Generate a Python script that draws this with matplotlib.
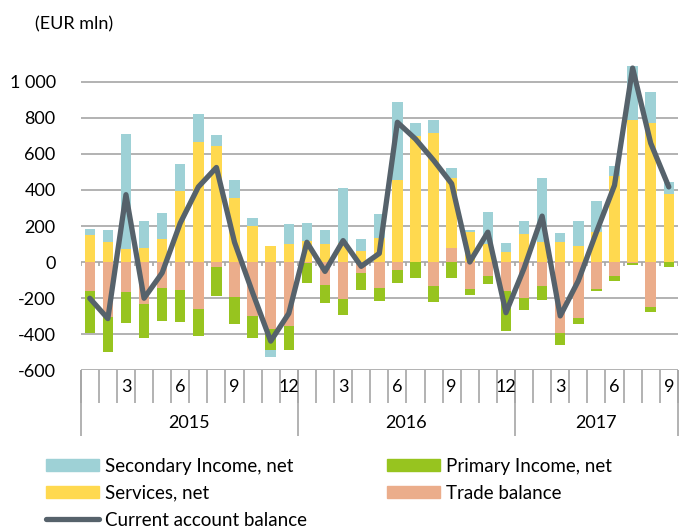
import numpy as np
import matplotlib.pyplot as plt
from matplotlib.ticker import FuncFormatter
from matplotlib.patches import Patch
from matplotlib.lines import Line2D

plt.rcParams['font.family'] = ['Lato', 'DejaVu Sans']

# monthly data, Jan 2015 - Sep 2017 (EUR mln)
years = ['2015', '2016', '2017']
months_per_year = [12, 12, 9]
trade = [-160, -305, -166, -231, -143, -153, -259, -30, -195, -298, -370, -353,
         -5, -126, -205, -63, -143, -43, 0, -134, 76, -149, -78, -158,
         -197, -134, -394, -309, -147, -78, -5, -249, 0]
primary = [-232, -195, -175, -193, -186, -180, -153, -158, -151, -123, -121, -138,
           -113, -102, -89, -91, -76, -76, -86, -89, -89, -32, -45, -227,
           -67, -76, -67, -33, -13, -26, -11, -30, -30]
services = [149, 113, 73, 76, 128, 394, 666, 644, 355, 199, 87, 99,
            119, 102, 104, 60, 136, 456, 701, 714, 391, 169, 100, 56,
            158, 112, 112, 91, 169, 480, 789, 770, 379]
secondary = [37, 67, 640, 151, 143, 151, 156, 63, 99, 48, -37, 110,
             99, 74, 305, 69, 128, 435, 71, 74, 56, 9, 180, 52,
             71, 352, 50, 138, 169, 52, 301, 173, 63]
current = [-201, -314, 374, -201, -60, 216, 417, 525, 110, -170, -439, -285,
           110, -52, 119, -24, 48, 776, 683, 565, 435, 0, 166, -281,
           -35, 255, -299, -104, 166, 426, 1077, 660, 417]

c_trade = '#EBAD8B'
c_primary = '#97C41F'
c_services = '#FFD94F'
c_secondary = '#9ED1D6'
c_line = '#56626B'
c_grid = '#A6A6A6'

fig = plt.figure(figsize=(6.84, 5.28), dpi=100)
ax = fig.add_axes([0.118, 0.299, 0.873, 0.58])

n = len(current)
x = np.arange(n)
pos_base = np.zeros(n)
neg_base = np.zeros(n)
for vals, col in [(trade, c_trade), (primary, c_primary),
                  (services, c_services), (secondary, c_secondary)]:
    v = np.array(vals, dtype=float)
    bottom = np.where(v >= 0, pos_base, neg_base)
    ax.bar(x, v, 0.58, bottom=bottom, color=col, zorder=2)
    pos_base += np.where(v >= 0, v, 0)
    neg_base += np.where(v < 0, v, 0)

ax.plot(x, current, color=c_line, lw=3.8, solid_joinstyle='round',
        solid_capstyle='round', zorder=4)

ax.set_xlim(-0.5, n - 0.5)
ax.set_ylim(-600, 1100)
ax.set_yticks(range(-600, 1001, 200))
ax.yaxis.set_major_formatter(FuncFormatter(lambda v, p: f'{v:,.0f}'.replace(',', ' ')))
ax.yaxis.grid(True, color=c_grid, lw=1.2, zorder=0)
ax.set_axisbelow(True)
ax.tick_params(axis='y', length=0, labelsize=13, pad=18)
ax.set_xticks([])
for s in ax.spines.values():
    s.set_visible(False)

# small ticks on the zero line
bounds = np.arange(n + 1) - 0.5
ax.vlines(bounds, -22, 0, color=c_grid, lw=1.2, zorder=1)

# category axis below the plot
tr = ax.get_xaxis_transform()
ax.vlines(bounds, -0.108, 0, transform=tr, color=c_grid, lw=1.2, clip_on=False)
start = 0
for yr, m in zip(years, months_per_year):
    ax.vlines([start - 0.5], -0.216, 0, transform=tr, color=c_grid, lw=1.2, clip_on=False)
    for k in range(3, m + 1, 3):
        ax.text(start + k - 1, -0.055, str(k), transform=tr, ha='center', va='center',
                fontsize=13)
    ax.text(start + (m - 1) / 2, -0.172, yr, transform=tr, ha='center', va='center',
            fontsize=13)
    start += m
ax.vlines([n - 0.5], -0.216, 0, transform=tr, color=c_grid, lw=1.2, clip_on=False)

fig.text(35 / 684, 1 - 24 / 528, '(EUR mln)', fontsize=13, va='center', ha='left')

h_sec = Patch(color=c_secondary, label='Secondary Income, net')
h_ser = Patch(color=c_services, label='Services, net')
h_cur = Line2D([], [], color=c_line, lw=3.8, solid_capstyle='round',
               label='Current account balance')
h_pri = Patch(color=c_primary, label='Primary Income, net')
h_tra = Patch(color=c_trade, label='Trade balance')

kw = dict(loc='upper left', frameon=False, fontsize=13.5, handlelength=2.8,
          handleheight=0.6, handletextpad=0.35, labelspacing=0.52,
          borderpad=0, borderaxespad=0)
leg1 = fig.legend(handles=[h_sec, h_ser, h_cur], bbox_to_anchor=(46 / 684, 1 - 458 / 528), **kw)
leg2 = fig.legend(handles=[h_pri, h_tra], bbox_to_anchor=(387 / 684, 1 - 458 / 528), **kw)

fig.savefig('out.png', dpi=100)
